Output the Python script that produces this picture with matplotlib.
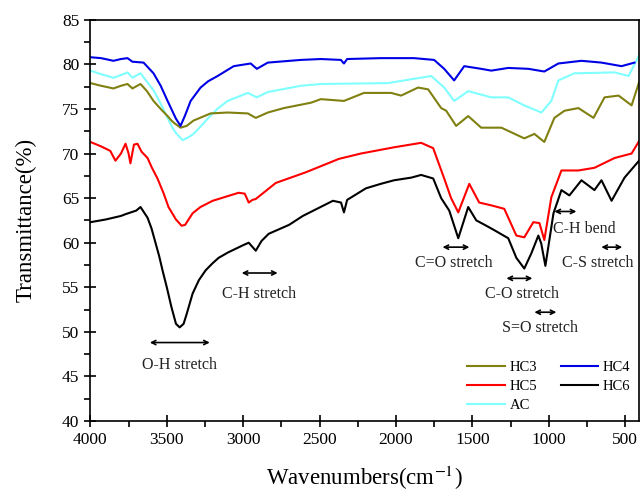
import matplotlib
matplotlib.use('Agg')
import matplotlib.pyplot as plt
from matplotlib.ticker import MultipleLocator

plt.rcParams['font.family'] = ['Liberation Serif', 'DejaVu Serif']
plt.rcParams['mathtext.fontset'] = 'stix'

# FTIR spectra (wavenumber in cm-1, transmittance in %)
hc3_wn = [4000, 3930, 3849, 3800, 3757, 3725, 3672, 3630, 3587, 3540, 3495, 3470, 3450, 3410,
          3370, 3325, 3213, 3102, 2970, 2918, 2839, 2734, 2557, 2492, 2341, 2210, 2033, 1967,
          1856, 1790, 1705, 1672, 1607, 1528, 1443, 1311, 1161, 1095, 1030, 964, 898, 807,
          708, 636, 544, 459, 410]
hc3_t = [77.9, 77.6, 77.3, 77.6, 77.8, 77.3, 77.8, 77.0, 75.9, 75.0, 74.2, 73.7, 73.4, 72.9,
         73.1, 73.7, 74.5, 74.6, 74.5, 74.0, 74.6, 75.1, 75.7, 76.1, 75.9, 76.8, 76.8, 76.5,
         77.4, 77.2, 75.1, 74.8, 73.1, 74.2, 72.9, 72.9, 71.7, 72.2, 71.3, 74.0, 74.8, 75.1,
         74.0, 76.3, 76.5, 75.4, 78.0]

hc4_wn = [4000, 3930, 3849, 3800, 3757, 3725, 3652, 3587, 3540, 3495, 3440, 3410, 3380, 3344,
          3279, 3230, 3167, 3110, 3062, 2951, 2911, 2839, 2623, 2492, 2361, 2341, 2320, 2100,
          1882, 1751, 1685, 1620, 1554, 1443, 1377, 1266, 1134, 1030, 938, 787, 656, 525, 440]
hc4_t = [80.8, 80.7, 80.4, 80.6, 80.7, 80.3, 80.2, 79.0, 77.6, 75.9, 73.9, 73.1, 74.3, 75.9,
         77.4, 78.1, 78.7, 79.3, 79.8, 80.1, 79.5, 80.2, 80.5, 80.6, 80.5, 80.1, 80.6, 80.7,
         80.7, 80.5, 79.5, 78.2, 79.8, 79.5, 79.3, 79.6, 79.5, 79.2, 80.1, 80.4, 80.2, 79.8, 80.2]

hc5_wn = [4000, 3930, 3870, 3836, 3800, 3770, 3750, 3738, 3715, 3692, 3665, 3626, 3600, 3561,
          3520, 3489, 3440, 3403, 3380, 3350, 3331, 3280, 3200, 3030, 2990, 2964, 2940, 2918,
          2787, 2590, 2374, 2230, 2013, 1836, 1757, 1685, 1640, 1593, 1521, 1456, 1380, 1292,
          1213, 1161, 1102, 1062, 1030, 984, 918, 807, 702, 570, 459, 410]
hc5_t = [71.3, 70.8, 70.3, 69.2, 70.0, 71.1, 70.0, 68.9, 71.0, 71.1, 70.2, 69.5, 68.5, 67.2,
         65.5, 64.0, 62.6, 61.9, 62.0, 62.8, 63.3, 64.0, 64.7, 65.6, 65.5, 64.5, 64.8, 64.9,
         66.7, 67.9, 69.4, 70.0, 70.7, 71.2, 70.6, 67.2, 65.0, 63.4, 66.6, 64.5, 64.2, 63.8,
         60.8, 60.6, 62.3, 62.2, 60.3, 65.1, 68.1, 68.1, 68.4, 69.5, 70.0, 71.4]

hc6_wn = [4000, 3900, 3800, 3770, 3700, 3672, 3626, 3600, 3550, 3528, 3500, 3470, 3440, 3416,
          3390, 3370, 3331, 3290, 3246, 3200, 3161, 3100, 3003, 2964, 2918, 2880, 2833, 2700,
          2610, 2413, 2360, 2341, 2320, 2197, 2100, 2013, 1900, 1836, 1757, 1705, 1652, 1593,
          1528, 1475, 1420, 1357, 1266, 1213, 1161, 1115, 1069, 1050, 1023, 970, 918, 866,
          787, 702, 656, 590, 505, 430, 410]
hc6_t = [62.3, 62.6, 63.0, 63.2, 63.6, 64.0, 62.8, 61.6, 58.5, 56.9, 55.0, 52.8, 50.9, 50.5,
         50.9, 52.0, 54.3, 55.8, 56.9, 57.7, 58.3, 58.9, 59.7, 60.0, 59.1, 60.2, 61.0, 62.0,
         63.0, 64.7, 64.5, 63.4, 64.8, 66.1, 66.6, 67.0, 67.3, 67.6, 67.2, 65.0, 63.6, 60.5,
         64.0, 62.5, 62.0, 61.4, 60.5, 58.3, 57.1, 58.8, 60.8, 59.9, 57.4, 63.3, 65.9, 65.3,
         67.0, 65.9, 67.0, 64.7, 67.3, 68.8, 69.2]

ac_wn = [4000, 3930, 3849, 3800, 3757, 3725, 3672, 3587, 3540, 3495, 3460, 3440, 3397, 3360,
         3325, 3280, 3233, 3170, 3102, 2970, 2911, 2839, 2623, 2492, 2052, 1770, 1685, 1620,
         1528, 1377, 1266, 1161, 1049, 984, 938, 833, 570, 479, 410]
ac_t = [79.3, 78.9, 78.5, 78.8, 79.1, 78.5, 79.0, 77.1, 75.6, 74.0, 72.8, 72.3, 71.5, 71.8,
        72.2, 73.0, 73.9, 75.0, 75.9, 76.8, 76.3, 76.9, 77.6, 77.8, 77.9, 78.7, 77.4, 75.9,
        77.0, 76.3, 76.3, 75.4, 74.6, 75.9, 78.2, 79.0, 79.1, 78.7, 81.0]

# band labels: text, arrow from, arrow to, arrow y, text x, text y
bands = [
    ('O-H stretch', 3611, 3219, 48.8, 3415, 46.3),
    ('C-H stretch', 3010, 2775, 56.6, 2899, 54.3),
    ('C=O stretch', 1696, 1520, 59.5, 1624, 57.7),
    ('C-O stretch', 1278, 1108, 56.0, 1173, 54.2),
    ('S=O stretch', 1095, 951, 52.2, 1056, 50.4),
    ('C-H bend', 964, 820, 63.5, 768, 61.5),
    ('C-S stretch', 657, 520, 59.5, 683, 57.7),
]

fig = plt.figure(figsize=(6.41, 4.95), dpi=100)
ax = fig.add_axes([0.141, 0.1495, 0.856, 0.8105])

lw = 1.5
ln_ac, = ax.plot(ac_wn, ac_t, color='#80ffff', lw=lw)
ln3, = ax.plot(hc3_wn, hc3_t, color='#808010', lw=lw)
ln4, = ax.plot(hc4_wn, hc4_t, color='#0000e6', lw=lw)
ln5, = ax.plot(hc5_wn, hc5_t, color='#ff0000', lw=lw)
ln6, = ax.plot(hc6_wn, hc6_t, color='black', lw=lw)

for text, x1, x2, ya, xt, yt in bands:
    ax.annotate('', xy=(x1, ya), xytext=(x2, ya),
                arrowprops=dict(arrowstyle='<->,head_length=0.3,head_width=0.15',
                                color='black', lw=1.2, shrinkA=0, shrinkB=0))
    ax.text(xt, yt, text, ha='center', va='center', fontsize=11.5, color='#222222')

ax.set_xlim(4000, 410)
ax.set_ylim(40, 85)
ax.xaxis.set_major_locator(MultipleLocator(500))
ax.xaxis.set_minor_locator(MultipleLocator(250))
ax.yaxis.set_major_locator(MultipleLocator(5))
ax.yaxis.set_minor_locator(MultipleLocator(2.5))
ax.tick_params(which='major', direction='inout', length=9, width=1.2, labelsize=12.5)
ax.tick_params(which='minor', direction='out', length=4, width=1.2)
for s in ax.spines.values():
    s.set_linewidth(1.2)

ax.set_xlabel('Wavenumbers(cm$^{-1}$)', fontsize=16.5, labelpad=11)
ax.set_ylabel('Transmittance(%)', fontsize=16.5, labelpad=18)

ax.legend([ln3, ln5, ln_ac, ln4, ln6], ['HC3', 'HC5', 'AC', 'HC4', 'HC6'],
          ncol=2, loc='lower right', frameon=False, fontsize=10.5,
          handlelength=2.6, handletextpad=0.3, columnspacing=1.6,
          labelspacing=0.4, borderaxespad=0.2)

fig.savefig('out.png', dpi=100)
